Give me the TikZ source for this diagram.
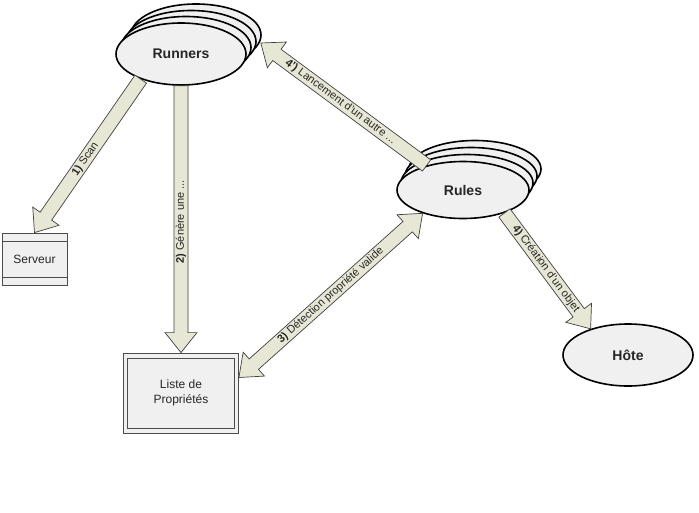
\documentclass[tikz,border=0pt]{standalone}
\usepackage{fontspec}
\setmainfont{Liberation Sans}
\usetikzlibrary{calc,shapes.geometric,shadows}

\definecolor{ellfill}{RGB}{240,240,240}
\definecolor{boxfill}{RGB}{240,240,240}
\definecolor{arrowfill}{RGB}{231,231,214}
\definecolor{arrowline}{RGB}{64,64,64}

% dimensions of the block arrows
\def\fashaft{7pt}
\def\fahead{16pt}
\def\falen{20pt}

% block arrow from #1 (tail) to #2 (tip)
\newcommand{\fatarrow}[2]{%
  \coordinate (fa-base) at ($(#2)!\falen!(#1)$);
  \draw[fatbody] ($(#1)!\fashaft!-90:(#2)$)
    -- ($(fa-base)!\fashaft!90:(#1)$)
    -- ($(fa-base)!\fahead!90:(#1)$)
    -- (#2)
    -- ($(fa-base)!\fahead!-90:(#1)$)
    -- ($(fa-base)!\fashaft!-90:(#1)$)
    -- ($(#1)!\fashaft!90:(#2)$) -- cycle;
}
% block arrow with a head at both ends
\newcommand{\fatarrowboth}[2]{%
  \coordinate (fa-b1) at ($(#2)!\falen!(#1)$);
  \coordinate (fa-b2) at ($(#1)!\falen!(#2)$);
  \draw[fatbody] (#1)
    -- ($(fa-b2)!\fahead!90:(#2)$)
    -- ($(fa-b2)!\fashaft!90:(#2)$)
    -- ($(fa-b1)!\fashaft!-90:(#1)$)
    -- ($(fa-b1)!\fahead!-90:(#1)$)
    -- (#2)
    -- ($(fa-b1)!\fahead!90:(#1)$)
    -- ($(fa-b1)!\fashaft!90:(#1)$)
    -- ($(fa-b2)!\fashaft!-90:(#2)$)
    -- ($(fa-b2)!\fahead!-90:(#2)$) -- cycle;
}

\begin{document}
\begin{tikzpicture}[x=1pt,y=-1pt,
  ellnode/.style={ellipse, draw=black, line width=1.6pt, fill=ellfill,
    inner sep=0pt, text=black!85, font=\bfseries\fontsize{14}{17}\selectfont},
  ellcopy/.style={fill=ellfill, draw=black, line width=1.6pt},
  boxnode/.style={rectangle, draw=black!70, line width=0.8pt, fill=boxfill,
    inner sep=0pt, align=center, text=black!85, font=\fontsize{12}{15}\selectfont},
  fatbody/.style={fill=arrowfill, draw=arrowline, line width=0.7pt, line join=miter},
  lbl/.style={sloped, inner sep=0pt, text=black!85, font=\fontsize{11}{13}\selectfont}]
\useasboundingbox (0,0) rectangle (699,512);

% nodes
\node[ellnode, minimum width=130pt, minimum height=62pt,
  copy shadow={shadow xshift=15pt, shadow yshift=19pt, ellcopy},
  copy shadow={shadow xshift=10pt, shadow yshift=12.5pt, ellcopy},
  copy shadow={shadow xshift=5pt, shadow yshift=6.5pt, ellcopy}]
  (runners) at (181,54) {Runners};
\node[ellnode, minimum width=132pt, minimum height=57pt,
  copy shadow={shadow xshift=12pt, shadow yshift=21pt, ellcopy},
  copy shadow={shadow xshift=8pt, shadow yshift=14pt, ellcopy},
  copy shadow={shadow xshift=4pt, shadow yshift=7pt, ellcopy}]
  (rules) at (463,190) {Rules};
\node[ellnode, minimum width=130pt, minimum height=62pt] (hote) at (628,355) {Hôte};

\node[boxnode, minimum width=65pt, minimum height=52pt] (serveur) at (34.5,259) {Serveur};
\draw[black!70, line width=0.8pt]
  ($(serveur.north west)+(0,9)$) -- ($(serveur.north east)+(0,9)$)
  ($(serveur.south west)+(0,-8)$) -- ($(serveur.south east)+(0,-8)$);

\node[boxnode, minimum width=115pt, minimum height=80pt] (liste) at (181,393)
  {Liste de\\Propriétés};
\draw[black!70, line width=0.8pt]
  ($(liste.north west)+(4.5,5.5)$) rectangle ($(liste.south east)+(-4.5,-5)$);

\coordinate (runtip) at ($(runners.east)+(14,-11)$);

% connectors
\fatarrow{runners.212}{serveur.north}
\fatarrow{runners.south}{liste.north}
\fatarrowboth{liste.15}{rules.210}
\fatarrow{rules.146}{runtip}
\fatarrow{rules.-29}{hote.145}

% connector labels
\path (runners.212) -- node[lbl, pos=0.52] {\textbf{1)} Scan} (serveur.north);
\path (liste.north) -- node[lbl, pos=0.49] {\textbf{2)} Génère une ...} (runners.south);
\path (liste.15) -- node[lbl, pos=0.5] {\textbf{3)} Détection propriété valide} (rules.210);
\path (rules.146) -- node[lbl, pos=0.52] {\textbf{4')} Lancement d'un autre ...} (runtip);
\path (rules.-29) -- node[lbl, pos=0.48] {\textbf{4)} Création d'un objet} (hote.145);
\end{tikzpicture}
\end{document}
